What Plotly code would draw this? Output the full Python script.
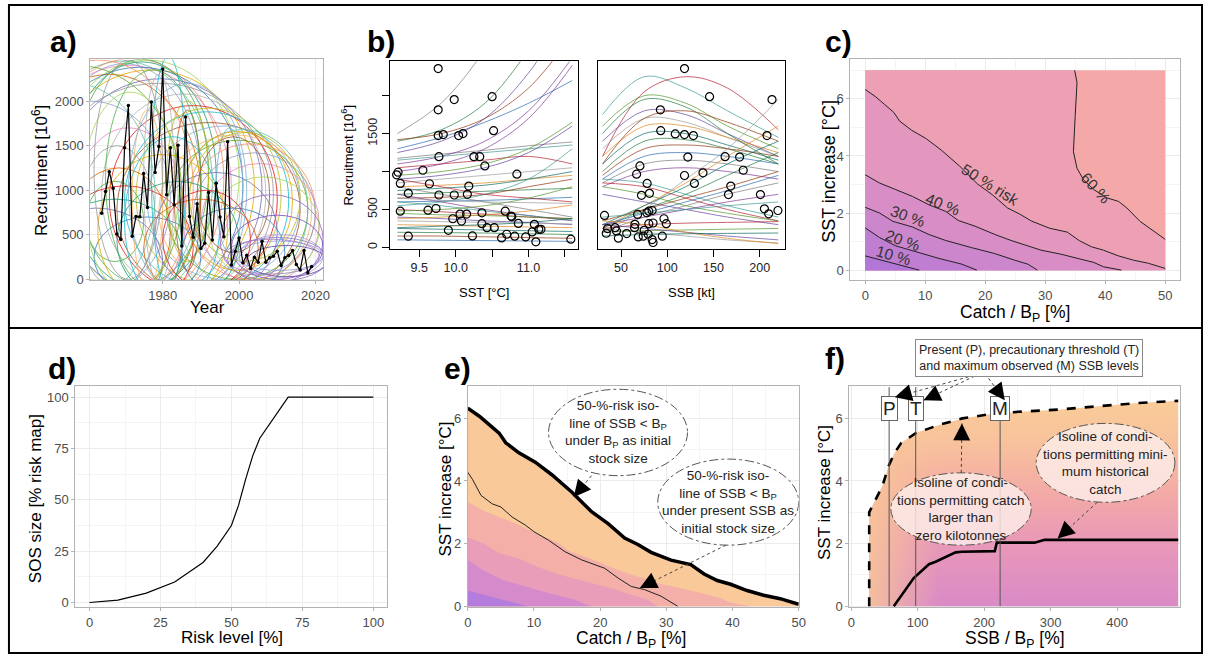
import math
import plotly.graph_objects as go

W, H = 1212, 662
FONT = "Liberation Sans"

# ---------------- panel a data ----------------
years = list(range(1964, 2020))
recruitment = [743, 985, 1208, 1022, 509, 446, 1476, 1951, 483, 706, 702, 1189, 807, 1989,
               1200, 1490, 2360, 948, 1476, 836, 1505, 375, 1821, 706, 472, 847, 346, 405,
               974, 442, 1078, 699, 479, 1543, 160, 316, 465, 186, 271, 123, 249, 193, 427,
               193, 242, 260, 316, 156, 242, 268, 323, 167, 104, 323, 74, 145]

# background loops of panel a (year span, recruitment span)
ell_x0 = [1946, 1948, 1950, 1944, 1952, 1950, 1955, 1942, 1953, 1949, 1957, 1947,
          1966, 1970, 1973, 1968, 1976, 1964, 1979, 1981,
          1984, 1986, 1988, 1990, 1992, 1985,
          1950, 1955, 1945, 1958, 1960, 1962, 1952,
          1977, 1981, 1983, 1994, 1975, 1972,
          1930, 1935, 1938, 1940, 1956, 1959, 1963, 1968, 1975, 1978, 1962, 1965,
          1985, 1980, 1970, 1987, 1989, 1971]
ell_x1 = [1993, 1996, 1990, 1998, 2000, 2004, 1994, 1990, 2006, 2009, 1992, 2001,
          2010, 2013, 2011, 2016, 2016, 2007, 2019, 2018,
          2018, 2020, 2020, 2021, 2021, 2014,
          1985, 1982, 1980, 1978, 1975, 1990, 1988,
          1986, 1992, 1990, 2001, 1983, 1980,
          1985, 1978, 1988, 1982, 1986, 1984, 1997, 2000, 2005, 2010, 1980, 1990,
          2012, 2003, 1995, 2016, 2008, 2002]
ell_y0 = [-300, -250, -200, -350, -150, -250, -100, -400, -200, -300, -50, -280,
          -150, -100, -50, -200, 0, -150, -100, 0,
          -100, 0, 50, -50, 0, 100,
          -300, -200, -400, -100, 200, -200, -350,
          -100, 200, 100, 300, -50, -100,
          -500, -300, -400, -200, -300, -150, -300, -250, -200, -150, 0, -100,
          -200, -100, -300, 200, 300, -200]
ell_y1 = [2450, 2480, 2420, 2400, 2460, 2350, 2440, 2300, 2250, 2200, 2470, 2380,
          1950, 1880, 1920, 1760, 1720, 2080, 1620, 1560,
          1680, 1520, 1420, 1300, 1150, 1660,
          900, 1250, 800, 1500, 1100, 700, 1050,
          2500, 2000, 1900, 1700, 2300, 1900,
          2400, 2200, 2460, 2000, 1700, 2100, 1400, 1100, 900, 1200, 2460, 2350,
          800, 1000, 1600, 1650, 1600, 2200]
# low loops of the recent period
low_x0 = [1995, 1998, 2000, 1997, 1996, 2002, 1999]
low_x1 = [2022, 2022, 2022, 2023, 2021, 2023, 2022]
low_y0 = [-50, 0, 20, -20, 60, 30, 100]
low_y1 = [950, 720, 500, 470, 450, 380, 430]

# ---------------- panel b data ----------------
sst_obs = [9.76, 9.98, 9.76, 10.5, 10.52, 9.76, 9.83, 10.04, 10.1, 9.77, 10.25, 10.33, 10.4,
           10.84, 9.19, 9.21, 9.55, 9.24, 9.64, 10.18, 9.35, 9.77, 9.98, 10.16, 9.24, 9.62,
           9.73, 10.06, 10.15, 10.36, 10.68, 10.76, 10.77, 9.96, 10.08, 10.36, 10.43, 10.53,
           10.86, 11.08, 9.90, 9.35, 10.23, 10.63, 10.7, 10.81, 10.96, 11.05, 11.14, 11.17,
           11.1, 11.58]
rec_sst = [2357, 1948, 1813, 1987, 1539, 1474, 1487, 1474, 1500, 1196, 1196, 1196, 1074, 965,
           957, 991, 1017, 843, 839, 809, 713, 691, 691, 700, 478, 491, 513, 439, 439, 456,
           478, 413, 404, 378, 348, 313, 261, 261, 317, 304, 226, 148, 152, 126, 174, 148,
           139, 204, 239, 239, 74, 109]
ssb_obs = [118.6, 145.7, 213.2, 92.5, 92.9, 108.6, 118.6, 128.2, 207.8, 122.2, 162.5, 178.2,
           182.1, 70.4, 66.8, 118.6, 138.6, 129.3, 78.2, 168.6, 80.7, 72.1, 166.1, 200.7, 205,
           209.6, 219.6, 32.1, 35.4, 34, 43.6, 45, 47.1, 56.1, 64.6, 65, 67.9, 68.6, 74, 75,
           77.9, 80, 83.6, 80, 84.6, 79.3, 83.6, 84.6, 96.4, 98.9, 94.6]
rec_ssb = [2357, 1987, 1948, 1813, 1539, 1496, 1487, 1474, 1474, 1191, 1196, 1191, 1017, 1074,
           965, 948, 983, 843, 843, 809, 713, 687, 696, 696, 509, 443, 487, 422, 248, 187, 261,
           217, 122, 183, 261, 304, 435, 139, 148, 226, 456, 478, 487, 313, 322, 174, 104, 65,
           378, 313, 148]

# fitted recruitment curves, sampled at a few SST / SSB values
sst_grid = [9.2, 9.8, 10.4, 11.0, 11.6]
sst_curves = [
    [1400, 1550, 1900, 2600, 3500], [1420, 1500, 1700, 2100, 2800], [1300, 1450, 1650, 1900, 2200],
    [1175, 1230, 1280, 1340, 1390], [1100, 1200, 1400, 1800, 2500], [1150, 1200, 1250, 1300, 1350],
    [1050, 1100, 1150, 1200, 1100], [950, 1000, 1100, 1300, 1650], [900, 950, 1050, 1250, 1600],
    [850, 900, 950, 1000, 1050], [800, 820, 850, 900, 950], [750, 780, 820, 900, 1000],
    [700, 720, 740, 760, 780], [650, 660, 700, 800, 900], [600, 610, 620, 640, 660],
    [800, 700, 600, 500, 400], [700, 600, 500, 420, 350], [600, 550, 480, 420, 360],
    [500, 470, 440, 400, 380], [450, 430, 420, 400, 380], [400, 380, 350, 330, 300],
    [350, 340, 330, 320, 310], [300, 290, 280, 270, 260], [250, 240, 230, 220, 210],
    [200, 195, 190, 180, 170], [150, 150, 140, 130, 120], [100, 95, 90, 85, 80],
    [1500, 1900, 2600, 3500, 4500], [1000, 1100, 1300, 1700, 2400], [550, 600, 700, 900, 1300],
    [900, 800, 700, 650, 600], [480, 500, 550, 650, 800], [1250, 1400, 1700, 2300, 3200],
    [650, 620, 600, 590, 580], [380, 400, 430, 480, 560], [260, 280, 300, 330, 380],
]
ssb_grid = [30, 75, 120, 165, 220]
ssb_curves = [
    [1750, 2250, 2100, 1800, 1450], [1200, 2050, 2250, 2100, 1550], [1600, 2000, 1900, 1600, 1300],
    [1400, 1800, 1750, 1500, 1200], [1300, 1700, 1650, 1450, 1200], [1200, 1600, 1600, 1450, 1250],
    [1100, 1500, 1500, 1350, 1150], [1000, 1400, 1420, 1300, 1100], [950, 1300, 1350, 1300, 1200],
    [900, 1200, 1250, 1200, 1100], [850, 1100, 1150, 1100, 1000], [800, 1000, 1050, 1000, 900],
    [900, 850, 700, 550, 400], [850, 800, 650, 500, 350], [800, 700, 550, 450, 350],
    [700, 600, 500, 400, 300], [200, 500, 900, 1300, 1950], [250, 550, 850, 1200, 1600],
    [300, 550, 800, 1100, 1400], [250, 500, 700, 950, 1250], [350, 500, 650, 800, 1000],
    [300, 450, 600, 750, 950], [200, 400, 550, 700, 850], [300, 400, 500, 600, 700],
    [400, 450, 500, 550, 600], [250, 300, 320, 330, 340], [200, 220, 230, 240, 250],
    [300, 250, 200, 150, 100], [250, 200, 150, 100, 60], [350, 300, 200, 120, 50],
    [150, 170, 180, 185, 190], [1500, 1950, 1850, 1500, 1100], [1100, 1700, 1800, 1650, 1400],
]

# ---------------- panel c / e isolines ----------------
iso10_catch = [0, 2.4, 5.1, 9.0]
iso10_sst = [0.5, 0.36, 0.21, 0]
iso20_catch = [0, 2.4, 5.1, 9.0, 12.3, 16.1, 18.6]
iso20_sst = [1.48, 1.14, 0.85, 0.61, 0.41, 0.21, 0]
iso30_catch = [0, 2.4, 4.6, 7.9, 10.6, 13.4, 17.7, 21.6, 24.9, 27.1, 28.7]
iso30_sst = [2.2, 2.0, 1.71, 1.51, 1.25, 1.04, 0.79, 0.58, 0.35, 0.21, 0]
iso40_catch = [0, 2.4, 5.1, 7.9, 10.6, 13.4, 15.5, 18.3, 21.6, 24.3, 27.1, 29.3, 32.6, 34.8, 38.1, 39.7, 42.7]
iso40_sst = [3.34, 3.05, 2.82, 2.58, 2.29, 2.06, 1.74, 1.54, 1.25, 1.04, 0.85, 0.7, 0.56, 0.44, 0.27, 0.12, 0]
iso50_catch = [0, 1.75, 3.24, 4.74, 5.74, 7.73, 10.2, 12.7, 15.7, 18.7, 21.2, 23.7, 25.7, 27.7,
               30.7, 33.7, 35.7, 37.7, 39.7, 42.2, 44.7, 47.2, 50]
iso50_sst = [6.33, 6.07, 5.8, 5.53, 5.22, 4.9, 4.6, 4.2, 3.65, 3.02, 2.64, 2.18, 1.97, 1.72,
             1.47, 1.33, 1.03, 0.82, 0.7, 0.5, 0.35, 0.24, 0.06]
iso60_catch = [34.9, 35.3, 35.0, 34.7, 35.3, 36.4, 38.1, 40.3, 42.2, 43.6, 45.8, 48.0, 50.0]
iso60_sst = [7.0, 6.58, 5.42, 4.15, 3.57, 3.16, 2.82, 2.53, 2.41, 2.18, 1.71, 1.37, 1.08]
present_catch = [0, 0.75, 2.0, 3.7, 5.0, 6.7, 8.7, 10.0, 12.2, 14.7, 17.2, 20.7, 22.7, 24.7, 26.7, 29.2, 31.7]
present_sst = [4.28, 4.04, 3.54, 3.27, 3.17, 2.85, 2.59, 2.38, 2.11, 1.74, 1.48, 1.21, 0.9, 0.63, 0.53, 0.32, 0]
CATCH_MAX = 50
SST_MAX = 7

contour_labels = ["10 %", "20 %", "30 %", "40 %", "50 % risk", "60 %"]
label_catch = [4.8, 6.3, 7.2, 13.0, 20.8, 38.5]
label_sst = [0.53, 1.04, 1.89, 2.29, 2.99, 2.87]

# ---------------- panel d ----------------
risk_level = [0, 10, 20, 30, 40, 45, 50, 52.5, 55, 57.5, 60, 65, 70, 100]
sos_size = [0, 1.2, 4.6, 10, 19.5, 27.5, 37.5, 47.3, 60, 71.4, 80, 90, 100, 100]

# ---------------- panel f ----------------
zero_ssb = [27, 27, 37, 47, 56, 65, 75, 97, 132, 167, 211, 251, 311, 380, 430, 492]
zero_sst = [0, 3.0, 3.42, 3.84, 4.47, 4.89, 5.21, 5.53, 5.79, 6.0, 6.14, 6.21, 6.28, 6.39, 6.49, 6.56]
minc_ssb = [64, 94, 117, 127, 157, 167, 216, 219, 276, 291, 492]
minc_sst = [0, 0.9, 1.34, 1.42, 1.72, 1.74, 1.76, 2.03, 2.03, 2.12, 2.12]
ssb_levels = {"P": 57, "T": 97, "M": 224}

# ---------------- layout geometry ----------------
BOX = {
    'a': (87, 322, 60, 283), 'b1': (390, 579, 62, 251), 'b2': (599, 788, 62, 251),
    'c': (854, 1187, 60, 283), 'd': (72, 387, 390, 613), 'e': (468, 802, 390, 613),
    'f': (853, 1187, 390, 613),
}
RANGES = {
    'a': ([1961, 2022], [-12, 2467]), 'b1': ([9.105, 11.675], [-17, 2451]),
    'b2': ([24.6, 227.1], [-17, 2451]), 'c': ([-2.5, 52.5], [-0.36, 7.38]),
    'd': ([-5, 105], [-2.4, 105.2]), 'e': ([0, 50], [-0.04, 7.02]), 'f': ([-3, 495], [-0.04, 7.02]),
}
AXN = {'a': 1, 'b1': 2, 'b2': 3, 'c': 4, 'd': 5, 'e': 6, 'f': 7}


def refs(p):
    n = AXN[p]
    return ('x' if n == 1 else f'x{n}', 'y' if n == 1 else f'y{n}')


def to_px(p, x, y):
    l, r, t, b = BOX[p]
    (x0, x1), (y0, y1) = RANGES[p]
    return l + (x - x0) / (x1 - x0) * (r - l), b - (y - y0) / (y1 - y0) * (b - t)


def pp(px, py):
    return px / W, 1 - py / H


fig = go.Figure()
shapes = []
annotations = []


def add(trace, p):
    xr, yr = refs(p)
    trace.update(xaxis=xr, yaxis=yr, showlegend=False, hoverinfo='skip')
    fig.add_trace(trace)


# ---- panel a ----
PAL_A = ['#66C2A5', '#FC8D62', '#8DA0CB', '#E78AC3', '#A6D854', '#E6AB02', '#1B9E77', '#D95F02',
         '#7570B3', '#999999', '#4DAF4A', '#377EB8', '#E41A1C', '#17BECF', '#BCBD22', '#A65628',
         '#80B1D3', '#B3B3B3', '#FDB462', '#66A61E']
xa, ya = refs('a')
for i in range(len(ell_x0)):
    shapes.append(dict(type='circle', xref=xa, yref=ya, x0=ell_x0[i], x1=ell_x1[i], y0=ell_y0[i],
                       y1=ell_y1[i], line=dict(color=PAL_A[i % len(PAL_A)], width=1.0),
                       opacity=0.8, layer='between'))
PAL_LOW = ['#9E6CC0', '#7E57C2', '#B39DDB', '#8E7CC3', '#A383C8', '#6A51A3', '#9C9EDE']
for i in range(len(low_x0)):
    shapes.append(dict(type='circle', xref=xa, yref=ya, x0=low_x0[i], x1=low_x1[i], y0=low_y0[i],
                       y1=low_y1[i], line=dict(color=PAL_LOW[i % len(PAL_LOW)], width=1.0),
                       opacity=0.85, layer='between'))
add(go.Scatter(x=years, y=recruitment, mode='lines+markers', line=dict(color='black', width=1.2),
               marker=dict(color='black', size=3.5)), 'a')

# ---- panel b ----
PAL_B = ['#1B7837', '#8C2D04', '#2166AC', '#777777', '#7B3294', '#35978F', '#B2182B',
         '#4D9221', '#5E3C99', '#999999', '#E08214', '#01665E']
for i, cv in enumerate(sst_curves):
    add(go.Scatter(x=sst_grid, y=cv, mode='lines', line=dict(color=PAL_B[i % len(PAL_B)], width=0.9,
                                                            shape='spline'), opacity=0.75), 'b1')
for i, cv in enumerate(ssb_curves):
    add(go.Scatter(x=ssb_grid, y=cv, mode='lines', line=dict(color=PAL_B[(i + 5) % len(PAL_B)], width=0.9,
                                                            shape='spline'), opacity=0.75), 'b2')
add(go.Scatter(x=sst_obs, y=rec_sst, mode='markers',
               marker=dict(symbol='circle-open', color='black', size=8, line=dict(width=1.2))), 'b1')
add(go.Scatter(x=ssb_obs, y=rec_ssb, mode='markers',
               marker=dict(symbol='circle-open', color='black', size=8, line=dict(width=1.2))), 'b2')

# ---- panel c ----
C_COL = ['#B277D6', '#C07ED2', '#CC86CC', '#D88DC6', '#E497BE', '#EDA0B3', '#F5A8A8']


def poly(p, xs, ys, color):
    add(go.Scatter(x=xs, y=ys, mode='lines', fill='toself', fillcolor=color,
                   line=dict(width=0, color=color)), p)


poly('c', [0, CATCH_MAX, CATCH_MAX, 0], [0, 0, SST_MAX, SST_MAX], C_COL[6])
poly('c', iso60_catch + [CATCH_MAX, 0, 0], iso60_sst + [0, 0, SST_MAX], C_COL[5])
isos = [(iso50_catch, iso50_sst), (iso40_catch, iso40_sst), (iso30_catch, iso30_sst),
        (iso20_catch, iso20_sst), (iso10_catch, iso10_sst)]
for k, (cx, cy) in enumerate(isos):
    ex = [CATCH_MAX] if cx[-1] >= CATCH_MAX else []
    poly('c', cx + ex + [0], cy + [0] * len(ex) + [0], C_COL[4 - k])
for cx, cy in isos + [(iso60_catch, iso60_sst)]:
    add(go.Scatter(x=cx, y=cy, mode='lines', line=dict(color='#222', width=1)), 'c')
xc, yc = refs('c')
angles = [16, 20, 20, 22, 32, 48]
for t, lx, ly, ag in zip(contour_labels, label_catch, label_sst, angles):
    annotations.append(dict(text=t, x=lx, y=ly, xref=xc, yref=yc, showarrow=False, textangle=ag,
                            font=dict(size=15.5, color='#333', family=FONT)))

# ---- panel d ----
add(go.Scatter(x=risk_level, y=sos_size, mode='lines', line=dict(color='black', width=1.2)), 'd')

# ---- panel e ----
E_COL = ['#B47CDC', '#D58BCB', '#E99DB8', '#F4B0A8', '#F9C99A']
for k, (cx, cy) in enumerate(isos):
    ex = [CATCH_MAX] if cx[-1] >= CATCH_MAX else []
    poly('e', cx + ex + [0], cy + [0] * len(ex) + [0], E_COL[4 - k])
add(go.Scatter(x=present_catch, y=present_sst, mode='lines', line=dict(color='#222', width=1)), 'e')
add(go.Scatter(x=iso50_catch, y=iso50_sst, mode='lines', line=dict(color='black', width=3.5)), 'e')

# ---- panel f ----
add(go.Scatter(x=zero_ssb + [zero_ssb[-1]], y=zero_sst + [0], mode='lines', fill='toself',
               line=dict(width=0),
               fillgradient=dict(type='vertical',
                                 colorscale=[[0, '#DA8AC6'], [0.3, '#E898B8'], [0.55, '#F3AAA6'],
                                             [0.8, '#F8C29C'], [1, '#F9CC98']])), 'f')
add(go.Scatter(x=zero_ssb[:9] + [zero_ssb[8]], y=zero_sst[:9] + [0], mode='lines', fill='toself',
               line=dict(width=0),
               fillgradient=dict(type='horizontal',
                                 colorscale=[[0, 'rgba(249,200,150,0.85)'], [1, 'rgba(249,200,150,0)']])), 'f')
add(go.Scatter(x=zero_ssb, y=zero_sst, mode='lines', line=dict(color='black', width=2.6, dash='dash')), 'f')
add(go.Scatter(x=minc_ssb, y=minc_sst, mode='lines', line=dict(color='black', width=2.6)), 'f')
xf, yf = refs('f')
for name, v in ssb_levels.items():
    shapes.append(dict(type='line', xref=xf, yref=yf, x0=v, x1=v, y0=0, y1=SST_MAX,
                       line=dict(color='#555', width=1)))
    annotations.append(dict(text=name, x=v, y=6.32, xref=xf, yref=yf, showarrow=False,
                            xanchor='center', yanchor='middle',
                            font=dict(size=19, color='#222', family=FONT), bgcolor='white',
                            bordercolor='#666', borderwidth=1, borderpad=1))


# ---- callouts ----
def ellipse(p, x0, x1, y0, y1, text, fill):
    xr, yr = refs(p)
    shapes.append(dict(type='circle', xref=xr, yref=yr, x0=x0, x1=x1, y0=y0, y1=y1, fillcolor=fill,
                       line=dict(color='#555', width=1, dash='dashdot')))
    annotations.append(dict(text=text, x=(x0 + x1) / 2, y=(y0 + y1) / 2, xref=xr, yref=yr,
                            xanchor='center', yanchor='middle',
                            showarrow=False, font=dict(size=13.5, color='#222', family=FONT)))


def arrow_px(tail, tip):
    # tail/tip in pixels; dotted line + black triangle head
    tx, ty = pp(*tail)
    hx, hy = pp(*tip)
    shapes.append(dict(type='line', xref='paper', yref='paper', x0=tx, y0=ty, x1=hx, y1=hy,
                       line=dict(color='#444', width=1, dash='dot')))
    dx, dy = tail[0] - tip[0], tail[1] - tip[1]
    d = math.hypot(dx, dy)
    L = 15
    annotations.append(dict(text='', x=hx, y=hy, xref='paper', yref='paper', showarrow=True,
                            ax=dx / d * L, ay=dy / d * L, arrowhead=2, arrowsize=3.4, arrowwidth=1,
                            arrowcolor='black'))


def arrow(p, tail, tip):
    arrow_px(to_px(p, *tail), to_px(p, *tip))


ellipse('e', 12.2, 33.2, 4.17, 6.93,
        "50-%-risk iso-<br>line of SSB &lt; B<sub>P</sub><br>under B<sub>P</sub> as initial<br>stock size",
        'rgba(255,255,255,0.82)')
ellipse('e', 28.7, 50.0, 1.95, 4.70,
        "50-%-risk iso-<br>line of SSB &lt; B<sub>P</sub><br>under present SSB as<br>initial stock size",
        'rgba(255,255,255,0.82)')
arrow('e', (18.7, 4.17), (16.0, 3.48))
arrow('e', (39.0, 1.95), (26.0, 0.58))

ellipse('f', 59.6, 270.8, 1.95, 4.26,
        "Isoline of condi-<br>tions permitting catch<br>larger than<br>zero kilotonnes",
        'rgba(253,238,234,0.82)')
ellipse('f', 278.3, 487.0, 3.32, 5.84,
        "Isoline of condi-<br>tions permitting mini-<br>mum historical<br>catch",
        'rgba(253,238,234,0.82)')
arrow('f', (165.5, 4.26), (166.5, 5.84))
arrow('f', (370.2, 3.32), (310.5, 2.16))

bx, by = pp(1034, 361)
annotations.append(dict(text="Present (P), precautionary threshold (T)<br>and maximum observed (M) SSB levels",
                        x=bx, y=by, xref='paper', yref='paper', showarrow=False,
                        xanchor='center', yanchor='middle',
                        font=dict(size=12.5, color='#222', family=FONT), bgcolor='white',
                        bordercolor='#888', borderwidth=1, borderpad=3))
arrow_px((985, 377), (899, 401))
arrow_px((985, 377), (928, 404))
arrow_px((990, 377), (1010, 404))


# ---------------- axes ----------------
def dom(p):
    l, r, t, b = BOX[p]
    return [l / W, r / W], [1 - b / H, 1 - t / H]


def gg_axes(p, xt, yt, xminor, yminor, xtext=None, ytext=None):
    (dx, dy) = dom(p)
    xr, yr = refs(p)
    (rx, ry) = RANGES[p]
    common = dict(showgrid=True, gridcolor='#EBEBEB', gridwidth=1, zeroline=False, showline=True,
                  linecolor='#B3B3B3', linewidth=1, mirror=True, ticks='outside', ticklen=3,
                  tickcolor='#B3B3B3', tickfont=dict(size=13, color='#4D4D4D', family=FONT))
    xa_ = dict(common, domain=dx, range=rx, anchor=yr, tickmode='array', tickvals=xt,
               minor=dict(showgrid=True, gridcolor='#F4F4F4', tickmode='array', tickvals=xminor, ticks=''))
    ya_ = dict(common, domain=dy, range=ry, anchor=xr, tickmode='array', tickvals=yt,
               minor=dict(showgrid=True, gridcolor='#F4F4F4', tickmode='array', tickvals=yminor, ticks=''))
    if xtext:
        xa_['ticktext'] = xtext
    if ytext:
        ya_['ticktext'] = ytext
    return xa_, ya_


def base_axes(p, xt, xtext, yt, ytext, show_y):
    (dx, dy) = dom(p)
    xr, yr = refs(p)
    (rx, ry) = RANGES[p]
    common = dict(showgrid=False, zeroline=False, showline=True, linecolor='black', linewidth=1.2,
                  mirror=True, ticks='outside', ticklen=7, tickcolor='black', tickwidth=1,
                  tickfont=dict(size=12.5, color='#222', family=FONT))
    xa_ = dict(common, domain=dx, range=rx, anchor=yr, tickmode='array', tickvals=xt, ticktext=xtext)
    ya_ = dict(common, domain=dy, range=ry, anchor=xr, tickmode='array', tickvals=yt, ticktext=ytext,
               tickangle=-90)
    if not show_y:
        ya_.update(ticks='', showticklabels=False)
    return xa_, ya_


layout_axes = {}


def put(p, xa_, ya_):
    n = AXN[p]
    layout_axes['xaxis' if n == 1 else f'xaxis{n}'] = xa_
    layout_axes['yaxis' if n == 1 else f'yaxis{n}'] = ya_


put('a', *gg_axes('a', [1980, 2000, 2020], [0, 500, 1000, 1500, 2000], [1970, 1990, 2010],
                  [250, 750, 1250, 1750, 2250]))
put('b1', *base_axes('b1', [9.5, 10.0, 10.5, 11.0, 11.5], ['9.5', '10.0', '', '11.0', ''],
                     [0, 500, 1000, 1500, 2000], ['0', '500', '', '1500', ''], True))
put('b2', *base_axes('b2', [50, 100, 150, 200], ['50', '100', '150', '200'],
                     [0, 500, 1000, 1500, 2000], ['0', '500', '', '1500', ''], False))
put('c', *gg_axes('c', [0, 10, 20, 30, 40, 50], [0, 2, 4, 6], [5, 15, 25, 35, 45], [1, 3, 5, 7]))
put('d', *gg_axes('d', [0, 25, 50, 75, 100], [0, 25, 50, 75, 100], [12.5, 37.5, 62.5, 87.5],
                  [12.5, 37.5, 62.5, 87.5]))
put('e', *gg_axes('e', [0, 10, 20, 30, 40, 50], [0, 2, 4, 6], [5, 15, 25, 35, 45], [1, 3, 5, 7]))
put('f', *gg_axes('f', [0, 100, 200, 300, 400], [0, 2, 4, 6], [50, 150, 250, 350, 450], [1, 3, 5, 7]))


# ---------------- titles / labels ----------------
def text_px(t, x, y, size, angle=0, bold=False, anchor='center'):
    px_, py_ = pp(x, y)
    annotations.append(dict(text=f"<b>{t}</b>" if bold else t, x=px_, y=py_, xref='paper',
                            yref='paper', showarrow=False, textangle=angle, xanchor=anchor,
                            yanchor='middle', font=dict(size=size, color='black', family=FONT)))


text_px("a)", 44, 42, 30, bold=True, anchor='left')
text_px("b)", 364, 42, 30, bold=True, anchor='left')
text_px("c)", 826, 42, 30, bold=True, anchor='left')
text_px("d)", 42, 372, 30, bold=True, anchor='left')
text_px("e)", 442, 372, 30, bold=True, anchor='left')
text_px("f)", 827, 362, 30, bold=True, anchor='left')

text_px("Recruitment [10<sup>6</sup>]", 37, 172, 17, angle=-90)
text_px("Year", 205, 310, 17)
text_px("Recruitment [10<sup>6</sup>]", 346, 157, 13, angle=-90)
text_px("SST [°C]", 484, 295, 13)
text_px("SSB [kt]", 694, 295, 13)
text_px("SST increase [°C]", 833, 173, 18, angle=-90)
text_px("Catch / B<sub>P</sub> [%]", 1020, 316, 17.5)
text_px("SOS size [% risk map]", 32, 503, 17, angle=-90)
text_px("Risk level [%]", 230, 643, 17)
text_px("SST increase [°C]", 446, 493, 17, angle=-90)
text_px("Catch / B<sub>P</sub> [%]", 633, 645, 17.5)
text_px("SST increase [°C]", 828, 497, 17, angle=-90)
text_px("SSB / B<sub>P</sub> [%]", 1020, 645, 17.5)

# frame
fx0, fy0 = pp(5, 5)
fx1, fy1 = pp(1209, 659)
shapes.append(dict(type='rect', xref='paper', yref='paper', x0=fx0, y0=fy1, x1=fx1, y1=fy0,
                   line=dict(color='black', width=2)))
sx, sy = pp(5, 331)
shapes.append(dict(type='line', xref='paper', yref='paper', x0=fx0, x1=fx1, y0=sy, y1=sy,
                   line=dict(color='black', width=2)))

fig.update_layout(width=W, height=H, margin=dict(l=0, r=0, t=0, b=0), paper_bgcolor='white',
                  plot_bgcolor='white', font=dict(family=FONT), shapes=shapes,
                  annotations=annotations, showlegend=False, **layout_axes)
fig.write_html("out.html")
